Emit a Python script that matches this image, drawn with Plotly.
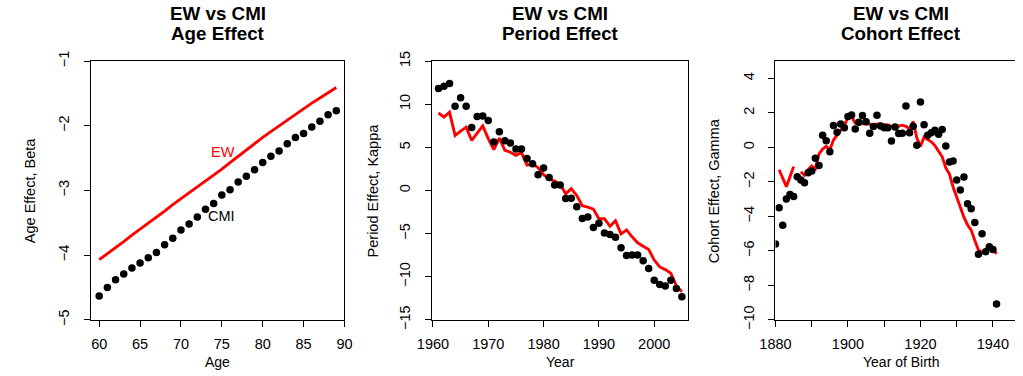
import plotly.graph_objects as go

# ---------------- data ----------------
ages = list(range(60, 90))
age_cmi = [-4.63, -4.50, -4.38, -4.29, -4.20, -4.12, -4.04, -3.96, -3.84, -3.74,
           -3.61, -3.52, -3.41, -3.29, -3.20, -3.07, -2.99, -2.87, -2.78, -2.68,
           -2.57, -2.47, -2.39, -2.28, -2.18, -2.12, -2.02, -1.93, -1.83, -1.77]
age_ew = [-4.07, -3.98, -3.88, -3.79, -3.69, -3.60, -3.51, -3.41, -3.32, -3.22,
          -3.13, -3.04, -2.94, -2.85, -2.76, -2.67, -2.57, -2.47, -2.38, -2.28,
          -2.18, -2.09, -2.00, -1.91, -1.82, -1.73, -1.65, -1.57, -1.49, -1.41]

years = list(range(1961, 2006))
period_cmi = [11.82, 12.09, 12.39, 9.75, 10.75, 9.75, 7.30, 8.56, 8.64, 8.10,
              5.61, 6.80, 5.77, 5.50, 4.81, 4.81, 3.70, 3.08, 1.82, 2.59,
              1.51, 0.63, 0.63, -0.94, -0.90, -1.90, -3.24, -3.08, -4.31, -3.81,
              -4.92, -5.11, -5.42, -6.65, -7.53, -7.49, -7.49, -8.14, -9.06, -10.40,
              -10.90, -11.09, -10.40, -11.36, -12.32]
period_ew = [8.98, 8.49, 9.06, 6.38, 6.88, 7.34, 5.80, 6.65, 7.49, 6.00,
             4.73, 6.07, 4.66, 4.43, 4.08, 4.39, 2.93, 3.05, 2.66, 1.82,
             1.32, 1.09, 0.75, -0.40, 0.21, -0.59, -1.78, -1.93, -2.16, -3.28,
             -3.28, -4.16, -3.51, -5.04, -4.58, -5.38, -6.07, -6.46, -6.84, -8.07,
             -8.87, -9.18, -9.60, -11.05, -11.74]

cohorts = list(range(1880, 1942))
cohort_cmi = [-5.60, -3.50, -4.52, -2.99, -2.74, -2.85, -1.70, -1.89, -2.05, -1.47,
              -1.37, -0.64, -1.05, 0.70, 0.38, -0.26, 1.27, 0.88, 1.35, 1.14,
              1.78, 1.87, 1.06, 1.45, 1.84, 1.48, 0.82, 1.20, 1.86, 1.24,
              1.14, 1.14, 0.37, 1.18, 0.80, 0.81, 2.39, 0.85, 1.22, 0.12,
              2.62, 1.31, 0.70, 0.85, 0.99, 0.76, 1.03, 0.07, -0.85, -0.80,
              -1.89, -2.48, -1.72, -3.27, -3.56, -4.36, -6.20, -5.01, -6.05, -5.76,
              -5.93, -9.08]
cohort_ew = [None, -1.30, -1.85, -2.28, -1.70, -1.12, None, -1.42, -1.62, -1.30,
             -1.08, -1.25, -0.38, -0.10, 0.05, -0.15, 0.42, 0.70, 0.95, 1.25,
             1.75, 1.80, 1.40, 1.37, 1.36, 1.38, 1.33, 1.30, 1.35, 1.33,
             1.30, 1.30, 1.20, 1.28, 1.22, 1.28, 1.22, 1.05, 1.50, 0.55,
             0.05, 0.60, 0.45, 0.32, 0.10, -0.20, -0.55, -1.20, -1.55, -2.30,
             -2.90, -3.55, -4.05, -4.50, -4.80, -5.40, -5.95, -6.08, -5.95, -5.70,
             -5.90, -6.18]

titles = [("EW vs CMI", "Age Effect"), ("EW vs CMI", "Period Effect"), ("EW vs CMI", "Cohort Effect")]
xtitles = ["Age", "Year", "Year of Birth"]
ytitles = ["Age Effect, Beta", "Period Effect, Kappa", "Cohort Effect, Gamma"]

x1_ticks = [60, 65, 70, 75, 80, 85, 90]
y1_ticks = [-5, -4, -3, -2, -1]
x2_ticks = [1960, 1970, 1980, 1990, 2000]
y2_ticks = [-15, -10, -5, 0, 5, 10, 15]
x3_ticks = [1880, 1890, 1900, 1910, 1920, 1930, 1940]
x3_text = ["1880", "", "1900", "", "1920", "", "1940"]
y3_ticks = [-10, -8, -6, -4, -2, 0, 2, 4]

# ---------------- layout geometry ----------------
W, H = 1023, 376
FONT = "Liberation Sans, Arial, Helvetica, sans-serif"
RED = "#FF0000"
SX, SY, OY = 0.993, 0.955, 8.5   # observed capture mapping


def px(v):
    # target screen x -> paper fraction
    return (v / SX) / W


def py(v):
    # target screen y -> paper fraction
    return 1 - ((v - OY) / SY) / H


xdoms = [[px(76.3), px(334.0)], [px(423.3), px(683.3)], [px(772.3), 1.0]]
ydom = [py(321), py(60)]
right3 = 1880 + (W - 772.3 / SX) / (3.685 / SX)
xranges = [[59, 90], [1959.88, 2006.1], [1880, right3]]
yranges = [[-5, -1], [-15, 15], [-10, 5.0]]

fig = go.Figure()


def add_panel(i, xs, cmi, ew):
    xa = "x" if i == 0 else f"x{i+1}"
    ya = "y" if i == 0 else f"y{i+1}"
    fig.add_trace(go.Scatter(x=xs, y=ew, mode="lines", xaxis=xa, yaxis=ya,
                             line=dict(color=RED, width=2.9), connectgaps=False,
                             showlegend=False, hoverinfo="skip"))
    fig.add_trace(go.Scatter(x=xs, y=cmi, mode="markers", xaxis=xa, yaxis=ya,
                             marker=dict(color="black", size=7.5), showlegend=False))


add_panel(0, ages, age_cmi, age_ew)
add_panel(1, years, period_cmi, period_ew)
add_panel(2, cohorts, cohort_cmi, cohort_ew)

FS = 14.5
tick_font = dict(family=FONT, size=FS, color="black")
xticks = [(x1_ticks, [str(t) for t in x1_ticks]), (x2_ticks, [str(t) for t in x2_ticks]), (x3_ticks, x3_text)]
yticks = [y1_ticks, y2_ticks, y3_ticks]

layout = dict(width=W, height=H, margin=dict(l=0, r=0, t=0, b=0),
              paper_bgcolor="white", plot_bgcolor="white",
              font=dict(family=FONT, size=FS, color="black"), showlegend=False)

for i in range(3):
    xk = "xaxis" if i == 0 else f"xaxis{i+1}"
    yk = "yaxis" if i == 0 else f"yaxis{i+1}"
    ya = "y" if i == 0 else f"y{i+1}"
    xa = "x" if i == 0 else f"x{i+1}"
    layout[xk] = dict(domain=xdoms[i], range=xranges[i], anchor=ya,
                      showgrid=False, zeroline=False, showline=True, mirror=True,
                      linecolor="black", linewidth=1,
                      ticks="outside", ticklen=6, tickcolor="black", tickwidth=1,
                      tickmode="array", tickvals=xticks[i][0], ticktext=xticks[i][1],
                      tickfont=tick_font, ticklabelstandoff=5)
    layout[yk] = dict(domain=ydom, range=yranges[i], anchor=xa,
                      showgrid=False, zeroline=False, showline=True, mirror=(i < 2),
                      linecolor="black", linewidth=1,
                      ticks="outside", ticklen=6, tickcolor="black", tickwidth=1,
                      tickmode="array", tickvals=yticks[i],
                      tickangle=-90, tickfont=tick_font, ticklabelstandoff=9)

fig.update_layout(**layout)

# titles and axis titles
centers = [(76.3 + 334.0) / 2, (423.3 + 683.3) / 2, (772.3 + 1028.5) / 2]
ytitle_x = [15, 363, 710.5]
annots = []
for i in range(3):
    annots.append(dict(text=f"<b>{titles[i][0]}</b>", x=px(centers[i]), y=py(12), xref="paper", yref="paper",
                       xanchor="center", yanchor="middle", showarrow=False,
                       font=dict(family=FONT, size=18.8, color="black")))
    annots.append(dict(text=f"<b>{titles[i][1]}</b>", x=px(centers[i]), y=py(32.5), xref="paper", yref="paper",
                       xanchor="center", yanchor="middle", showarrow=False,
                       font=dict(family=FONT, size=18.8, color="black")))
    annots.append(dict(text=xtitles[i], x=px(centers[i]), y=1 - 372 / H, xref="paper", yref="paper",
                       xanchor="center", yanchor="middle", showarrow=False,
                       font=dict(family=FONT, size=14, color="black")))
    annots.append(dict(text=ytitles[i], x=px(ytitle_x[i]), y=py(190.5), xref="paper", yref="paper",
                       xanchor="center", yanchor="middle", showarrow=False, textangle=-90,
                       font=dict(family=FONT, size=FS, color="black")))

# in-plot labels
annots.append(dict(text="EW", x=75.1, y=-2.40, xref="x", yref="y", showarrow=False,
                   xanchor="center", yanchor="middle", font=dict(family=FONT, size=FS, color=RED)))
annots.append(dict(text="CMI", x=75.0, y=-3.40, xref="x", yref="y", showarrow=False,
                   xanchor="center", yanchor="middle", font=dict(family=FONT, size=FS, color="black")))

fig.update_layout(annotations=annots)
fig.write_html("out.html")
